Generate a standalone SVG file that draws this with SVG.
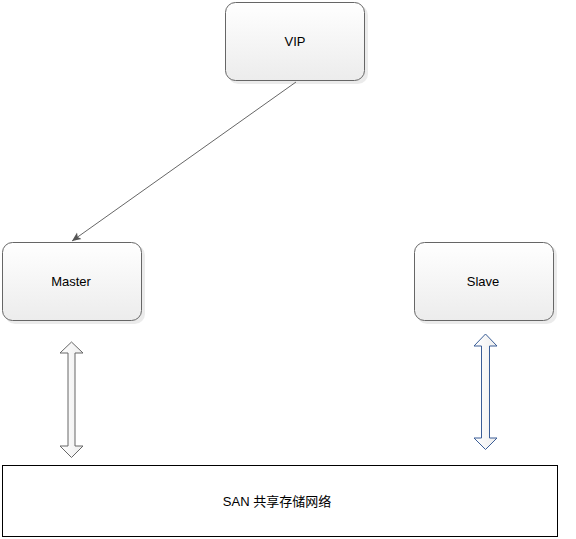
<svg xmlns="http://www.w3.org/2000/svg" width="576" height="539" viewBox="0 0 576 539">
<style>
.node{fill:url(#g);stroke:#666;stroke-width:1}
.lbl{font-family:"Liberation Sans",Arial,"Noto Sans CJK SC",sans-serif;font-size:13px;fill:#000;text-anchor:middle;dominant-baseline:central}
.shadow{fill:#000;opacity:0.08}
</style>
<defs>
<linearGradient id="g" x1="0" y1="0" x2="0" y2="1">
<stop offset="0" stop-color="#ffffff"/>
<stop offset="1" stop-color="#ececec"/>
</linearGradient>
<linearGradient id="ga" x1="0" y1="0" x2="1" y2="0">
<stop offset="0" stop-color="#ffffff"/>
<stop offset="1" stop-color="#eeeeee"/>
</linearGradient>
<marker id="ah" markerWidth="10" markerHeight="10" refX="9" refY="5" orient="auto" markerUnits="userSpaceOnUse">
<path d="M0,1 L9,5 L0,9 L2,5 Z" fill="#555"/>
</marker>
</defs>
<rect width="576" height="539" fill="#fff"/>
<g id="vip">
<rect class="shadow" x="228" y="5" width="140" height="79" rx="10"/>
<rect class="node" x="225.5" y="2.5" width="139" height="78" rx="10"/>
<text class="lbl" x="295" y="41">VIP</text>
</g>
<g id="master">
<rect class="shadow" x="5" y="245" width="140" height="79" rx="10"/>
<rect class="node" x="2.5" y="242.5" width="139" height="78" rx="10"/>
<text class="lbl" x="71" y="281">Master</text>
</g>
<g id="slave">
<rect class="shadow" x="417" y="245" width="140" height="79" rx="10"/>
<rect class="node" x="414.5" y="242.5" width="139" height="78" rx="10"/>
<text class="lbl" x="483" y="281">Slave</text>
</g>
<g id="san">
<rect x="2.5" y="465.5" width="555" height="71" fill="#fff" stroke="#000" stroke-width="1"/>
<text class="lbl" x="277" y="501">SAN 共享存储网络</text>
</g>
<g id="connectors">
<line x1="296" y1="82" x2="72" y2="241" stroke="#666" stroke-width="1" marker-end="url(#ah)"/>
<path d="M71.5,342 L83,353 L75,353 L75,446 L83,446 L71.5,457.5 L60,446 L68,446 L68,353 L60,353 Z" fill="url(#ga)" stroke="#666" stroke-width="1"/>
<path d="M485.5,334 L497,346 L489.5,346 L489.5,438 L497,438 L485.5,449.5 L474,438 L481.5,438 L481.5,346 L474,346 Z" fill="url(#ga)" stroke="#3a5d96" stroke-width="1"/>
</g>
</svg>
